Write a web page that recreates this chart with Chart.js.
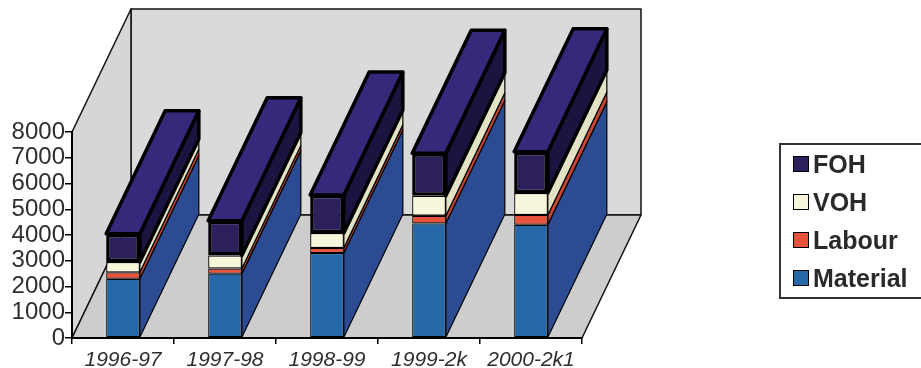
<!DOCTYPE html>
<html>
<head>
<meta charset="utf-8">
<script src="https://cdn.jsdelivr.net/npm/chart.js@4"></script>
<style>
  body { margin: 0; background: #fff; overflow: hidden; }
  #wrap { position: relative; width: 921px; height: 368px; }
  #legend {
    position: absolute; left: 779px; top: 143px; width: 160px; height: 152px;
    border: 2px solid #333; font: bold 25px "Liberation Sans", Arial, sans-serif; color: #2a2a2a;
  }
  #legend .row { height: 38px; display: flex; align-items: center; padding-left: 12px; }
  #legend .sw { width: 14px; height: 14px; border: 1.5px solid #000; margin-right: 4px; }
</style>
</head>
<body>
<div id="wrap">
  <canvas id="costChart"></canvas>
  <div id="legend"></div>
</div>
<script>
// Cost build-up per year (front face values)
const years    = ['1996-97', '1997-98', '1998-99', '1999-2k', '2000-2k1'];
const material = [2300, 2500, 3300, 4450, 4400];
const labour   = [250, 200, 200, 300, 380];
const voh      = [400, 500, 580, 770, 850];
const foh      = [1100, 1350, 1470, 1650, 1600];
const yTicks   = [0, 1000, 2000, 3000, 4000, 5000, 6000, 7000, 8000];

const seriesNames = ['Material', 'Labour', 'VOH', 'FOH'];
const frontColors = ['#2667a8', '#e8533c', '#f7f5da', '#2d1f5c'];
const sideColors  = ['#2b4b93', '#c84535', '#e4e2c4', '#1c1440'];
const topColor    = '#34297a';
const edgeWidths  = [1.2, 1.2, 1.2, 3.5];

// depth of the fake 3D box (pixels, up and to the right)
const DX = 59, DY = -123;

function poly(ctx, pts, fill, stroke, lw) {
  ctx.beginPath();
  ctx.moveTo(pts[0][0], pts[0][1]);
  for (let i = 1; i < pts.length; i++) ctx.lineTo(pts[i][0], pts[i][1]);
  ctx.closePath();
  ctx.fillStyle = fill;
  ctx.fill();
  if (stroke) { ctx.strokeStyle = stroke; ctx.lineWidth = lw; ctx.lineJoin = 'round'; ctx.stroke(); }
}

const walls = {
  id: 'walls',
  beforeDraw(chart) {
    const { ctx, chartArea: a } = chart;
    ctx.save();
    ctx.fillStyle = '#fff';
    ctx.fillRect(0, 0, chart.width, chart.height);
    // back wall
    poly(ctx, [[a.left + DX, a.top + DY], [a.right + DX, a.top + DY], [a.right + DX, a.bottom + DY], [a.left + DX, a.bottom + DY]], '#dadada', '#111', 1.5);
    // left wall
    poly(ctx, [[a.left, a.top], [a.left + DX, a.top + DY], [a.left + DX, a.bottom + DY], [a.left, a.bottom]], '#d6d6d6', '#111', 1.5);
    // floor
    poly(ctx, [[a.left, a.bottom], [a.left + DX, a.bottom + DY], [a.right + DX, a.bottom + DY], [a.right, a.bottom]], '#cdcdcd', '#111', 1.5);
    ctx.restore();
  }
};

const extrude = {
  id: 'extrude',
  beforeDatasetsDraw(chart) {
    const { ctx } = chart;
    const n = chart.data.datasets.length;
    ctx.save();
    for (let d = 0; d < n; d++) {
      const meta = chart.getDatasetMeta(d);
      meta.data.forEach(el => {
        const xl = el.x - el.width / 2, xr = el.x + el.width / 2;
        const lw = edgeWidths[d];
        poly(ctx, [[xr, el.y], [xr + DX, el.y + DY], [xr + DX, el.base + DY], [xr, el.base]], sideColors[d], '#000', lw);
        if (d === n - 1) {
          poly(ctx, [[xl, el.y], [xl + DX, el.y + DY], [xr + DX, el.y + DY], [xr, el.y]], topColor, '#000', lw);
        }
      });
    }
    ctx.restore();
  }
};

const seriesData = [material, labour, voh, foh];
const datasets = seriesData.map((vals, i) => ({
  label: seriesNames[i],
  data: vals,
  backgroundColor: frontColors[i],
  borderColor: '#000',
  borderWidth: edgeWidths[i],
  borderSkipped: false,
  categoryPercentage: 1,
  barPercentage: 0.33
}));

new Chart(document.getElementById('costChart'), {
  type: 'bar',
  data: { labels: years, datasets },
  plugins: [walls, extrude],
  options: {
    responsive: true,
    maintainAspectRatio: false,
    animation: false,
    layout: { padding: { top: 132, right: 339, bottom: 0, left: 0 } },
    plugins: { legend: { display: false }, tooltip: { enabled: false } },
    scales: {
      x: {
        stacked: true,
        afterFit(scale) { scale.height = 30; },
        grid: { drawOnChartArea: false, color: '#000', tickLength: 6, lineWidth: 1.5 },
        border: { color: '#000', width: 2 },
        ticks: { color: '#2e2e2e', padding: 4, maxRotation: 0, font: { family: '"Liberation Sans", Arial', size: 21, style: 'italic' } }
      },
      y: {
        stacked: true,
        min: 0,
        max: 8000,
        afterFit(scale) { scale.width = 72; },
        afterBuildTicks(scale) { scale.ticks = yTicks.map(v => ({ value: v })); },
        grid: { drawOnChartArea: false, color: '#000', tickLength: 7, lineWidth: 1.5 },
        border: { color: '#000', width: 2 },
        ticks: {
          color: '#2e2e2e', padding: 0, autoSkip: false,
          callback: v => String(v),
          font: { family: '"Liberation Sans", Arial', size: 24 }
        }
      }
    }
  }
});

// legend listed top-down as in the original (FOH first)
const legendEl = document.getElementById('legend');
for (let i = seriesNames.length - 1; i >= 0; i--) {
  const row = document.createElement('div');
  row.className = 'row';
  row.innerHTML = '<span class="sw" style="background:' + frontColors[i] + '"></span>' + seriesNames[i];
  legendEl.appendChild(row);
}
</script>
</body>
</html>
